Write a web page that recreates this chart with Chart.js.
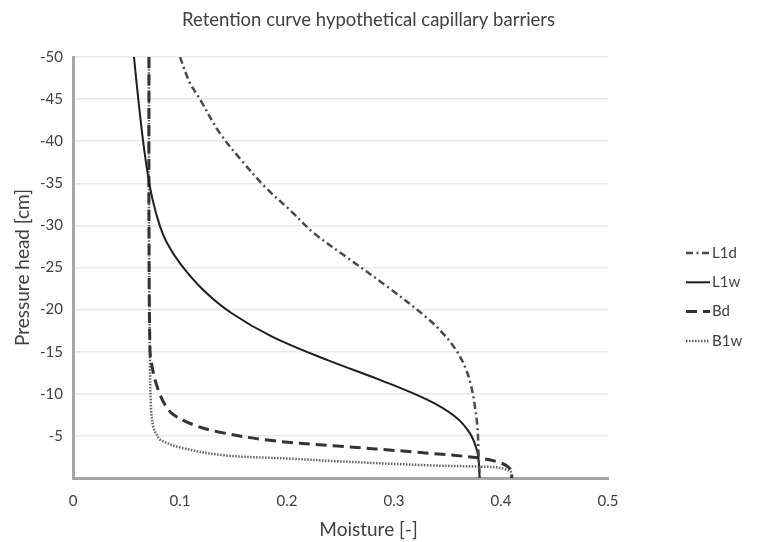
<!DOCTYPE html>
<html>
<head>
<meta charset="utf-8">
<script src="https://cdn.jsdelivr.net/npm/chart.js@4/dist/chart.umd.min.js"></script>
<style>
  html, body { margin: 0; padding: 0; background: #fff; }
  #wrap { width: 757px; height: 542px; }
</style>
</head>
<body>
<div id="wrap"><canvas id="chart" width="757" height="542"></canvas></div>
<script>
// ================== Data ==================
const seriesLabels = ["L1d", "L1w", "Bd", "B1w"];

// L1d (dash-dot)
const l1dPressure = [-50, -47, -44.9, -41, -37.8, -34.5, -31.8, -29.1, -26.2, -22.7, -19, -17, -15, -13, -11, -9, -6, -3, 0];
const l1dMoisture = [0.100, 0.109, 0.119, 0.137, 0.157, 0.180, 0.203, 0.225, 0.256, 0.294, 0.331, 0.347, 0.359, 0.367, 0.372, 0.375, 0.378, 0.379, 0.380];

// L1w (solid)
const l1wPressure = [-50, -45, -40, -36, -33, -30, -28, -25.5, -22.3, -19.6, -16.8, -14, -11.6, -9.3, -7.3, -5.3, -3.3, -1.5, 0];
const l1wMoisture = [0.057, 0.061, 0.0655, 0.070, 0.0745, 0.081, 0.0875, 0.100, 0.122, 0.148, 0.186, 0.238, 0.288, 0.331, 0.357, 0.371, 0.3775, 0.3795, 0.380];

// Bd (dashed)
const bdPressure = [-50, -30, -15, -13.2, -11.5, -9.7, -8.5, -7.5, -6.3, -5.5, -4.5, -3.8, -3.1, -2.4, -1.9, -1.3, -0.6, 0];
const bdMoisture = [0.071, 0.071, 0.072, 0.074, 0.077, 0.082, 0.087, 0.094, 0.113, 0.135, 0.182, 0.247, 0.318, 0.378, 0.397, 0.407, 0.410, 0.410];

// B1w (dotted)
const b1wPressure = [-50, -30, -13.2, -8.1, -6.1, -5.2, -4.5, -3.6, -2.7, -2.3, -2.0, -1.5, -1.35, -1.2, -0.75, -0.3, 0];
const b1wMoisture = [0.071, 0.071, 0.072, 0.073, 0.075, 0.078, 0.082, 0.101, 0.141, 0.203, 0.245, 0.334, 0.381, 0.399, 0.409, 0.410, 0.410];

// axis ticks
const xTicks = [0, 0.1, 0.2, 0.3, 0.4, 0.5];
const yTicks = [-50, -45, -40, -35, -30, -25, -20, -15, -10, -5, 0];

// ================== Helpers ==================
const toPoints = (xs, ys) => xs.map((x, i) => ({ x: x, y: ys[i] }));

const FONT = "Lato, 'Open Sans', sans-serif";
const TEXT_COLOR = "#404040";

// simple legend on the right, drawn from the dataset styles
const sideLegend = {
  id: "sideLegend",
  afterDraw(chart) {
    const ctx = chart.ctx;
    const area = chart.chartArea;
    const x0 = area.right + 78;
    const y0 = area.top + 196;
    ctx.save();
    chart.data.datasets.forEach((ds, i) => {
      const y = y0 + i * 29.3;
      ctx.strokeStyle = ds.borderColor;
      ctx.lineWidth = ds.borderWidth;
      ctx.setLineDash(ds.borderDash || []);
      ctx.beginPath();
      ctx.moveTo(x0, y);
      ctx.lineTo(x0 + 24, y);
      ctx.stroke();
      ctx.setLineDash([]);
      ctx.fillStyle = TEXT_COLOR;
      ctx.font = "15px " + FONT;
      ctx.textBaseline = "middle";
      ctx.textAlign = "left";
      ctx.fillText(ds.label, x0 + 26, y);
    });
    ctx.restore();
  },
};

// ================== Chart ==================
const ctx = document.getElementById("chart").getContext("2d");
const chart = new Chart(ctx, {
  type: "scatter",
  data: {
    datasets: [
      {
        label: seriesLabels[0],
        data: toPoints(l1dMoisture, l1dPressure),
        borderColor: "#4a4a4a",
        borderWidth: 2.5,
        borderDash: [7, 3.5, 2, 3.5],
      },
      {
        label: seriesLabels[1],
        data: toPoints(l1wMoisture, l1wPressure),
        borderColor: "#1e1e1e",
        borderWidth: 2,
        borderDash: [],
      },
      {
        label: seriesLabels[2],
        data: toPoints(bdMoisture, bdPressure),
        borderColor: "#333333",
        borderWidth: 3,
        borderDash: [11, 6],
      },
      {
        label: seriesLabels[3],
        data: toPoints(b1wMoisture, b1wPressure),
        borderColor: "#606060",
        borderWidth: 2.5,
        borderDash: [1.5, 1.5],
      },
    ].map((d) => ({ ...d, showLine: true, pointRadius: 0, fill: false, tension: 0.35 })),
  },
  options: {
    responsive: false,
    animation: false,
    devicePixelRatio: 1,
    layout: { padding: { left: 0, right: 20, top: 0, bottom: 0 } },
    plugins: {
      legend: { display: false },
      tooltip: { enabled: false },
      title: {
        display: true,
        text: "Retention curve hypothetical capillary barriers",
        color: TEXT_COLOR,
        font: { family: FONT, size: 18.5, weight: "normal" },
        padding: { top: 9, bottom: 25.8 },
      },
      subtitle: {
        display: true,
        position: "bottom",
        text: "Moisture [-]",
        color: TEXT_COLOR,
        font: { family: FONT, size: 19, weight: "normal" },
        padding: { top: 0, bottom: 1 },
      },
    },
    scales: {
      x: {
        type: "linear",
        min: xTicks[0],
        max: xTicks[xTicks.length - 1],
        afterBuildTicks: (scale) => { scale.ticks = xTicks.map((v) => ({ value: v })); },
        afterFit: (scale) => { scale.height = 40.2; },
        grid: { display: false },
        border: { display: true, color: "#a6a6a6", width: 3 },
        ticks: {
          color: TEXT_COLOR,
          font: { family: FONT, size: 15 },
          padding: 6,
          callback: (v) => (v === 0 ? "0" : v.toFixed(1)),
        },
      },
      y: {
        type: "linear",
        reverse: true,
        min: yTicks[0],
        max: yTicks[yTicks.length - 1],
        afterBuildTicks: (scale) => { scale.ticks = yTicks.map((v) => ({ value: v })); },
        afterFit: (scale) => { scale.width = 73; },
        grid: { color: "#e8e8e8", lineWidth: 1.5, drawTicks: false },
        border: { display: true, color: "#a6a6a6", width: 3 },
        ticks: {
          color: TEXT_COLOR,
          font: { family: FONT, size: 15 },
          padding: 10,
          callback: (v) => (v === 0 ? "" : String(v)),
        },
        title: {
          display: true,
          text: "Pressure head [cm]",
          color: TEXT_COLOR,
          font: { family: FONT, size: 19, weight: "normal" },
          padding: { top: 11.6, bottom: 0 },
        },
      },
      // empty axis on the right that only reserves room for the legend
      legendRoom: {
        type: "linear",
        position: "right",
        display: true,
        afterFit: (scale) => { scale.width = 129; },
        grid: { display: false },
        border: { display: false },
        ticks: { display: false },
      },
    },
  },
  plugins: [sideLegend],
});
</script>
</body>
</html>
